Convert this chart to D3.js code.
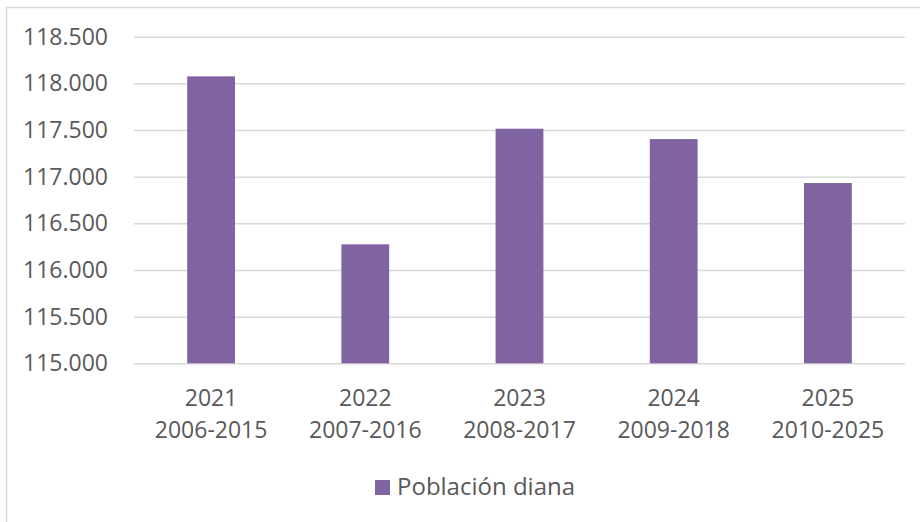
<!DOCTYPE html>
<html>
<head>
<meta charset="utf-8">
<script src="https://cdn.jsdelivr.net/npm/d3@7"></script>
<style>
    body { margin: 0; background: #fff; }
    text { font-family: "Open Sans", "Noto Sans", sans-serif; fill: #595959; }
</style>
</head>
<body>
<svg></svg>
<script>
// data
const years = ["2021", "2022", "2023", "2024", "2025"];
const periods = ["2006-2015", "2007-2016", "2008-2017", "2009-2018", "2010-2025"];
const poblacion = [118075, 116275, 117514, 117403, 116932];
const yTicks = [115000, 115500, 116000, 116500, 117000, 117500, 118000, 118500];
const seriesName = "Población diana";

function drawChart() {
    const svgWidth = 920, svgHeight = 522;
    const margin = { top: 36.7, right: 15, bottom: 158.7, left: 134 };
    const width = svgWidth - margin.left - margin.right;
    const height = svgHeight - margin.top - margin.bottom;

    const svg = d3.select("svg")
        .attr("width", svgWidth)
        .attr("height", svgHeight);

    // chart border (only top and left visible)
    svg.append("rect")
        .attr("x", 6.5).attr("y", 7.5)
        .attr("width", 940).attr("height", 540)
        .attr("fill", "none")
        .attr("stroke", "#d9d9d9")
        .attr("stroke-width", 1.5);

    const g = svg.append("g")
        .attr("transform", `translate(${margin.left}, ${margin.top})`);

    const x = d3.scaleBand()
        .domain(years)
        .range([0, width])
        .paddingInner(0.69)
        .paddingOuter(0.345);

    const y = d3.scaleLinear()
        .domain([115000, 118500])
        .range([height, 0]);

    const locale = d3.formatLocale({ decimal: ",", thousands: ".", grouping: [3], currency: ["", "€"] });
    const fmt = locale.format(",d");

    // gridlines
    g.append("g")
        .attr("class", "grid")
        .call(d3.axisLeft(y).tickValues(yTicks).tickSize(-width).tickFormat(""))
        .call(sel => sel.select(".domain").remove())
        .call(sel => sel.selectAll("line").attr("stroke", "#d9d9d9").attr("stroke-width", 1.5));

    // y labels
    g.append("g")
        .attr("class", "y axis")
        .call(d3.axisLeft(y).tickValues(yTicks).tickSize(0).tickPadding(26).tickFormat(fmt))
        .call(sel => sel.select(".domain").remove())
        .call(sel => sel.selectAll("text")
            .attr("font-size", "23px")
            .attr("fill", "#595959")
            .attr("font-family", "Open Sans"));

    // bars
    g.selectAll(".bar")
        .data(poblacion)
        .enter().append("rect")
        .attr("class", "bar")
        .attr("x", (d, i) => x(years[i]))
        .attr("width", x.bandwidth())
        .attr("y", d => y(d))
        .attr("height", d => y(115000) - y(d))
        .attr("fill", "#8064a2");

    // x labels (two lines)
    const xl = g.append("g")
        .attr("class", "x axis")
        .attr("transform", `translate(0, ${height})`);
    years.forEach((yr, i) => {
        const cx = x(yr) + x.bandwidth() / 2;
        const t = xl.append("text")
            .attr("x", cx)
            .attr("text-anchor", "middle")
            .attr("font-size", "23px");
        t.append("tspan").attr("x", cx).attr("y", 43).text(yr);
        t.append("tspan").attr("x", cx).attr("y", 75).text(periods[i]);
    });

    // legend
    const legend = svg.append("g").attr("transform", "translate(375, 480)");
    legend.append("rect")
        .attr("width", 15).attr("height", 15)
        .attr("fill", "#8064a2");
    legend.append("text")
        .attr("x", 22).attr("y", 15)
        .attr("font-size", "24px")
        .text(seriesName);
}

drawChart();
</script>
</body>
</html>
